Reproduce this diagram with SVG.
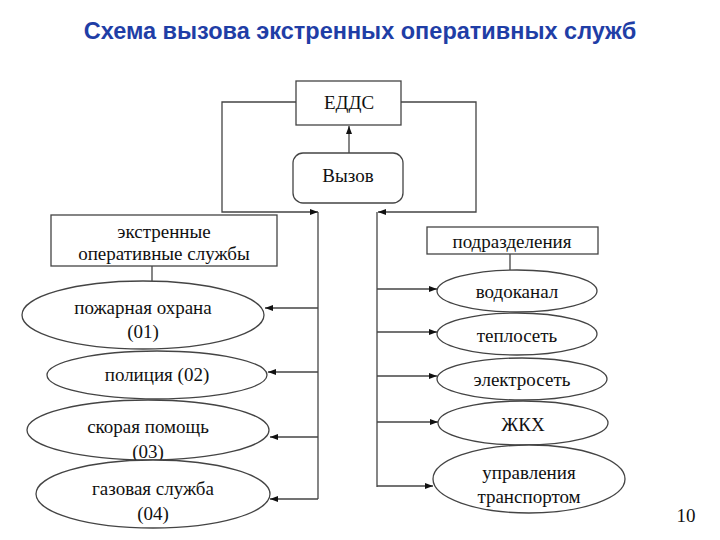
<svg xmlns="http://www.w3.org/2000/svg" width="720" height="540" viewBox="0 0 720 540">
<defs>
<style>
.t{font-family:"Liberation Serif","DejaVu Serif",serif;font-size:19px;fill:#111;text-anchor:middle}
.s{fill:#fff;stroke:#444;stroke-width:1.3}
.c{fill:none;stroke:#444;stroke-width:1.3}
</style>
<marker id="a" viewBox="0 0 8 6" refX="8" refY="3" markerWidth="8" markerHeight="6" markerUnits="userSpaceOnUse" orient="auto">
<path d="M0,0 L8,3 L0,6 z" fill="#111"/>
</marker>
</defs>
<rect width="720" height="540" fill="#fff"/>
<text x="360" y="39" font-family="Liberation Sans, Arial, sans-serif" font-weight="bold" font-size="23.5" fill="#1f3ea6" text-anchor="middle">Схема вызова экстренных оперативных служб</text>
<g id="connectors">
<line class="c" x1="349" y1="153" x2="349" y2="126" marker-end="url(#a)"/>
<polyline class="c" points="296,102 222,102 222,212 318,212" marker-end="url(#a)"/>
<polyline class="c" points="401,102 476,102 476,212 378,212" marker-end="url(#a)"/>
<line class="c" x1="318" y1="212" x2="318" y2="499"/>
<line class="c" x1="377" y1="212" x2="377" y2="487"/>
<line class="c" x1="152" y1="266" x2="152" y2="281"/>
<line class="c" x1="510" y1="254" x2="510" y2="270"/>
<line class="c" x1="318" y1="308" x2="265" y2="308" marker-end="url(#a)"/>
<line class="c" x1="318" y1="372" x2="268" y2="372" marker-end="url(#a)"/>
<line class="c" x1="318" y1="437" x2="270" y2="437" marker-end="url(#a)"/>
<line class="c" x1="318" y1="499" x2="270" y2="499" marker-end="url(#a)"/>
<line class="c" x1="377" y1="289" x2="437" y2="289" marker-end="url(#a)"/>
<line class="c" x1="377" y1="332" x2="437" y2="332" marker-end="url(#a)"/>
<line class="c" x1="377" y1="376" x2="437" y2="376" marker-end="url(#a)"/>
<line class="c" x1="377" y1="422" x2="438" y2="422" marker-end="url(#a)"/>
<line class="c" x1="377" y1="486" x2="433" y2="486" marker-end="url(#a)"/>
</g>
<g id="edds"><rect class="s" x="296" y="81" width="105" height="44"/><text class="t" x="349" y="109">ЕДДС</text></g>
<g id="vyzov"><rect class="s" x="293" y="153" width="110" height="50" rx="10"/><text class="t" x="348" y="182">Вызов</text></g>
<g id="ekstr"><rect class="s" x="51" y="215" width="226" height="51"/><text class="t" x="164" y="238">экстренные</text><text class="t" x="164" y="260">оперативные службы</text></g>
<g id="podr"><rect class="s" x="427" y="227" width="171" height="27"/><text class="t" x="512" y="248">подразделения</text></g>
<g id="pozh"><ellipse class="s" cx="143" cy="315" rx="121" ry="34"/><text class="t" x="143" y="314">пожарная охрана</text><text class="t" x="143" y="338">(01)</text></g>
<g id="polic"><ellipse class="s" cx="157" cy="375" rx="110" ry="24"/><text class="t" x="157" y="381">полиция (02)</text></g>
<g id="skor"><ellipse class="s" cx="148" cy="430" rx="121" ry="30"/><text class="t" x="148" y="433">скорая помощь</text><text class="t" x="148" y="458">(03)</text></g>
<g id="gaz"><ellipse class="s" cx="153" cy="494" rx="117" ry="34"/><text class="t" x="153" y="495">газовая служба</text><text class="t" x="153" y="520">(04)</text></g>
<g id="vodo"><ellipse class="s" cx="517" cy="291" rx="80" ry="21"/><text class="t" x="517" y="298">водоканал</text></g>
<g id="teplo"><ellipse class="s" cx="517" cy="334" rx="80" ry="21"/><text class="t" x="517" y="342">теплосеть</text></g>
<g id="elektro"><ellipse class="s" cx="522" cy="379" rx="85" ry="21"/><text class="t" x="522" y="386">электросеть</text></g>
<g id="zhkh"><ellipse class="s" cx="523" cy="423" rx="85" ry="22"/><text class="t" x="523" y="431">ЖКХ</text></g>
<g id="transp"><ellipse class="s" cx="529" cy="479" rx="96" ry="34"/><text class="t" x="529" y="479">управления</text><text class="t" x="529" y="503">транспортом</text></g>
<text class="t" x="686" y="522">10</text>
</svg>
